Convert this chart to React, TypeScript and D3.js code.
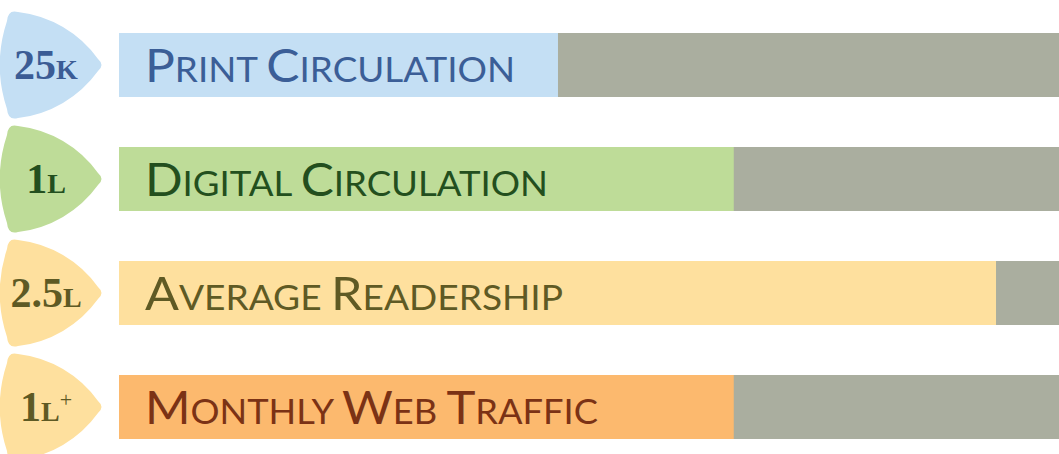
import React from "react";
import * as d3 from "d3";

const labels = ["Print Circulation", "Digital Circulation", "Average Readership", "Monthly Web Traffic"];
const values = [46.7, 65.4, 93.3, 65.4]; // percent of track
const badgeNumbers = ["25", "1", "2.5", "1"];
const badgeUnits = ["K", "L", "L", "L"];
const badgeSups = ["", "", "", "+"];
const barColors = ["#C4DFF4", "#BEDC98", "#FEE09E", "#FCB96E"];
const badgeColors = ["#C4DFF4", "#BEDC98", "#FEE09E", "#FEE09E"];
const labelColors = ["#3B5E97", "#234F1E", "#5F5A24", "#7B3215"];
const badgeTextColors = ["#3B5C95", "#234F1F", "#5E5A24", "#5E5A24"];
const labelWidths = [370, 403, 418, 453];

const W = 1059;
const H = 454;
const trackColor = "#AAAE9F";

function badgePath(cy: number): string {
  const R = 115;
  const R2 = 140;
  return [
    `M18,${cy - 53}`,
    `A${R},${R} 0 0 1 98,${cy - 6}`,
    `Q105,${cy} 98,${cy + 6}`,
    `A${R},${R} 0 0 1 18,${cy + 53}`,
    `Q8,${cy + 56} 7,${cy + 44}`,
    `A${R2},${R2} 0 0 1 7,${cy - 44}`,
    `Q8,${cy - 56} 18,${cy - 53}`,
    "Z",
  ].join(" ");
}

function smallCaps(text: string, big: number, small: number) {
  const parts: React.ReactNode[] = [];
  const words = text.split(" ");
  words.forEach((w, i) => {
    const first = w[0].toUpperCase();
    const rest = w.slice(1).toUpperCase() + (i < words.length - 1 ? " " : "");
    parts.push(
      <tspan key={`a${i}`} fontSize={big}>
        {first}
      </tspan>
    );
    parts.push(
      <tspan key={`b${i}`} fontSize={small}>
        {rest}
      </tspan>
    );
  });
  return parts;
}

export default function App() {
  const y = d3
    .scaleBand<number>()
    .domain(d3.range(labels.length))
    .range([33, 439])
    .paddingInner(50 / 114)
    .paddingOuter(0);
  const bh = y.bandwidth();
  const x = d3.scaleLinear().domain([0, 100]).range([119, 1059]);

  return (
    <svg
      width={W}
      height={H}
      style={{ position: "absolute", left: 0, top: 0, background: "#fff" }}
    >
      {labels.map((lab, i) => {
        const top = y(i) as number;
        const cy = top + bh / 2;
        return (
          <g key={lab}>
            <rect x={x(0)} y={top} width={x(100) - x(0)} height={bh} fill={trackColor} />
            <rect x={x(0)} y={top} width={x(values[i]) - x(0)} height={bh} fill={barColors[i]} />
            <text
              x={145}
              y={cy + 17}
              fill={labelColors[i]}
              fontFamily="Lato, 'Noto Sans', sans-serif"
              textLength={labelWidths[i]}
              lengthAdjust="spacingAndGlyphs"
            >
              {smallCaps(lab, 46, 34)}
            </text>
            <path d={badgePath(cy)} fill={badgeColors[i]} />
            <text
              x={46}
              y={cy + 14}
              textAnchor="middle"
              fill={badgeTextColors[i]}
              fontFamily="'Liberation Serif', 'DejaVu Serif', serif"
              fontWeight="bold"
            >
              <tspan fontSize={42}>{badgeNumbers[i]}</tspan>
              <tspan fontSize={28}>{badgeUnits[i]}</tspan>
              {badgeSups[i] ? (
                <tspan fontSize={22} fontWeight="normal" dy={-14}>
                  {badgeSups[i]}
                </tspan>
              ) : null}
            </text>
          </g>
        );
      })}
    </svg>
  );
}
